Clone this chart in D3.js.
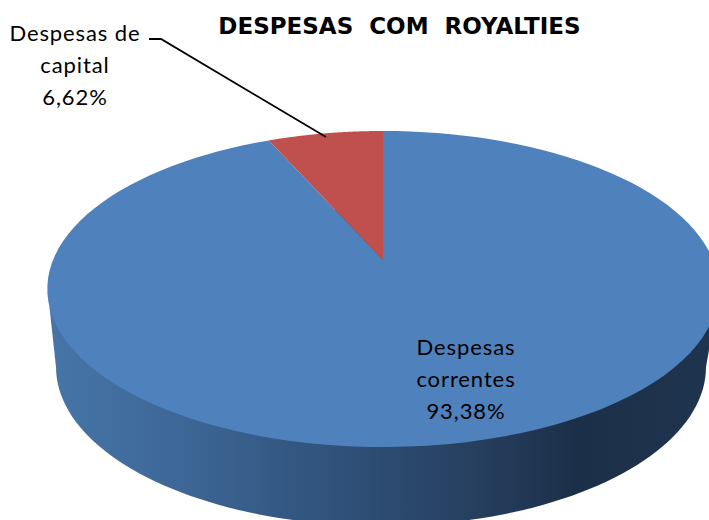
<!DOCTYPE html>
<html><head><meta charset="utf-8">
<script src="https://cdn.jsdelivr.net/npm/d3@7/dist/d3.min.js"></script>
<style>html,body{margin:0;padding:0;background:#fff}svg{display:block}</style>
</head><body><div id="c"></div>
<script>
const title = "DESPESAS  COM  ROYALTIES";
const categories = ["Despesas correntes", "Despesas de capital"];
const values = [93.38, 6.62];
const valueLabels = ["93,38%", "6,62%"];
const colors = ["#4f81bd", "#c0504d"];
const labelLines = [["Despesas", "correntes", "93,38%"], ["Despesas de", "capital", "6,62%"]];

const W = 709, H = 520;
const svg = d3.select("#c").append("svg").attr("width", W).attr("height", H).attr("viewBox", [0,0,W,H]);

// perspective projection of the pie disc
const apex = {x: 383, y: 260}, A = 152.7, B = 330, p = 0.1836;
const proj = a => {
  const u = Math.sin(a), v = Math.cos(a), w = 1 + p * v;
  return [apex.x + B * u / w, apex.y - A * v / w];
};
const arcs = d3.pie().sort(null).value(d => d)(values);
const steps = a => d3.range(0, 121).map(i => a.startAngle + (a.endAngle - a.startAngle) * i / 120);

// side wall
const defs = svg.append("defs");
const grad = defs.append("linearGradient").attr("id", "side").attr("gradientUnits", "userSpaceOnUse")
  .attr("x1", 47).attr("x2", 709).attr("y1", 0).attr("y2", 0);
[[0, "#4775a8"], [0.2, "#3d6797"], [0.45, "#2f5078"], [0.65, "#263f5f"], [0.8, "#1c2f49"], [1, "#1f344e"]]
  .forEach(s => grad.append("stop").attr("offset", s[0]).attr("stop-color", s[1]));

const base = {cx: 381, cy: 367, rx: 325, ry: 159};
const angs = d3.range(0, 361, 2).map(d => d * Math.PI / 180);
const baseLine = d3.line()(angs.map(a => [base.cx + base.rx * Math.sin(a), base.cy - base.ry * Math.cos(a)]));
svg.append("path").attr("d", baseLine + "Z").attr("fill", "url(#side)");
// join between the top rim and the base at the silhouette
const sil = 1.866;
const wall = [proj(sil), [base.cx + base.rx, base.cy], [base.cx - base.rx, base.cy], proj(-sil)];
svg.append("path").attr("d", d3.line()(wall) + "Z").attr("fill", "url(#side)");

// top face
svg.selectAll("path.slice").data(arcs).join("path").attr("class", "slice")
  .attr("d", a => d3.line()([[apex.x, apex.y], ...steps(a).map(proj)]) + "Z")
  .attr("fill", (d, i) => colors[i]);

svg.append("text").attr("x", 399.5).attr("y", 34).attr("text-anchor", "middle")
  .attr("font-family", "'DejaVu Sans', sans-serif").attr("font-size", 23).attr("font-weight", 700).attr("fill", "#000")
  .style("white-space", "pre").text(title);

// labels
const font = "Lato, 'Open Sans', sans-serif";
const labelPos = [{x: 466, y: 355}, {x: 75, y: 41}];
labelLines.forEach((lines, i) => {
  lines.forEach((t, j) => svg.append("text").attr("x", labelPos[i].x).attr("y", labelPos[i].y + j * 32)
    .attr("text-anchor", "middle").attr("font-family", font).attr("font-size", 22).attr("letter-spacing", 0.9)
    .attr("fill", "#000").text(t));
});

// leader line
svg.append("path").attr("d", d3.line()([[149, 39], [161, 39], [326, 137]]))
  .attr("fill", "none").attr("stroke", "#000").attr("stroke-width", 1.8);
</script></body></html>
